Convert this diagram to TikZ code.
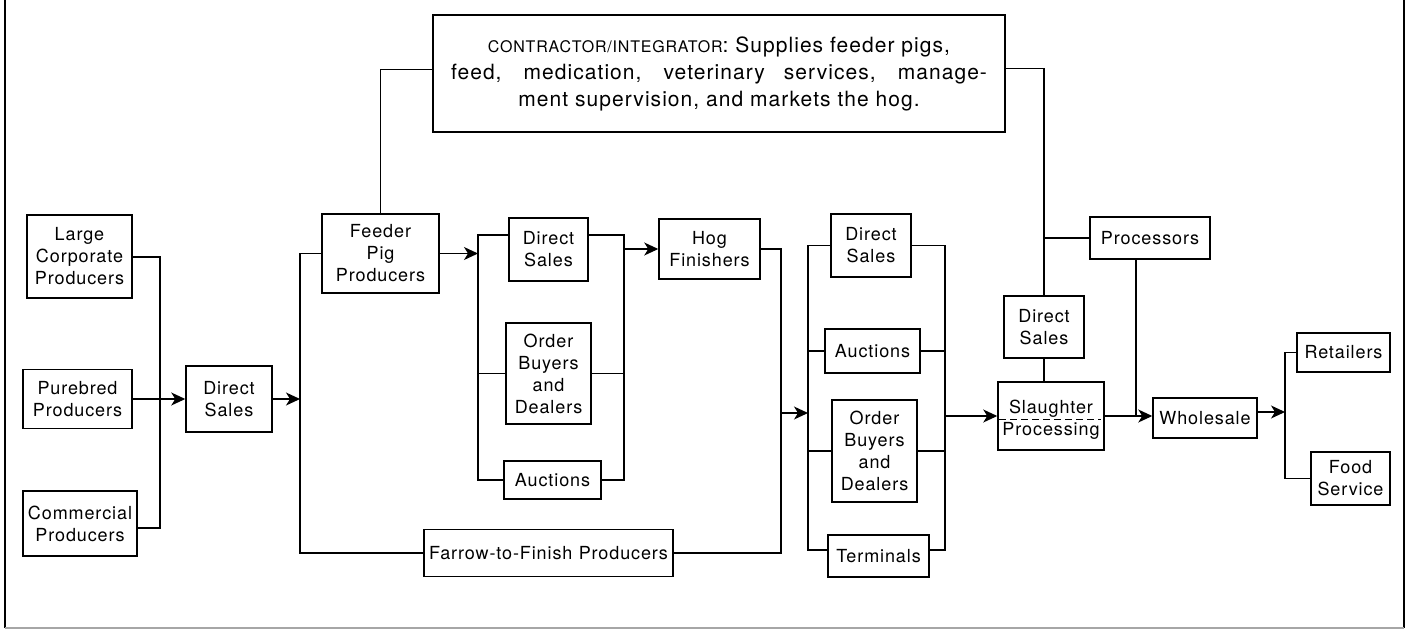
\documentclass[tikz,border=0pt]{standalone}
\usepackage{fontspec}
\setmainfont[LetterSpace=5]{TeX Gyre Heros}
\usetikzlibrary{arrows.meta}
\begin{document}
\begin{tikzpicture}[x=1pt,y=-1pt,
  box/.style={draw, line width=1.5pt, align=center, inner sep=0pt, font=\fontsize{18}{22}\selectfont},
  link/.style={line width=1.2pt},
  arr/.style={line width=1.2pt, -{Stealth[length=14pt,width=13pt,inset=4pt]}},
  frame/.style={line width=2pt}]
\useasboundingbox (0,0) rectangle (1410,629);

% frame
\draw[frame] (5,0) -- (5,628);
\draw[frame] (1404,0) -- (1404,628);
\draw[line width=1.5pt, gray!70] (5,628) -- (1404,628);

% left producers
\node[box, minimum width=105pt, minimum height=83pt] (large) at (79.5,256.5) {Large\\Corporate\\Producers};
\node[box, minimum width=109pt, minimum height=59pt] (pure) at (77.5,399) {Purebred\\Producers};
\node[box, minimum width=114pt, minimum height=65pt] (comm) at (80,523.5) {Commercial\\Producers};
\node[box, minimum width=86pt, minimum height=66pt] (ds1) at (229,399) {Direct\\Sales};

% feeder and contractor
\node[box, minimum width=117pt, minimum height=79pt] (feeder) at (380.5,253.5) {Feeder\\Pig\\Producers};
\node[box, minimum width=572pt, minimum height=117pt, font=\fontsize{21}{27}\selectfont] (contr) at (719,73.5)
  {{\fontsize{16}{27}\selectfont CONTRACTOR/INTEGRATOR}: Supplies feeder pigs,\\
   \makebox[536pt][s]{feed, medication, veterinary services, manage-}\\
   ment supervision, and markets the hog.};

% middle group
\node[box, minimum width=79pt, minimum height=63pt] (ds2) at (548.5,249.5) {Direct\\Sales};
\node[box, minimum width=85pt, minimum height=101pt] (ob1) at (548.5,373.5) {Order\\Buyers\\and\\Dealers};
\node[box, minimum width=97pt, minimum height=38pt] (auc1) at (552.5,480) {Auctions};
\node[box, minimum width=101pt, minimum height=60pt] (hog) at (709.5,249) {Hog\\Finishers};
\node[box, minimum width=249pt, minimum height=47pt] (farrow) at (548.5,553) {Farrow-to-Finish\hspace{0.35em}Producers};

% right group
\node[box, minimum width=80pt, minimum height=63pt] (ds3) at (871,245.5) {Direct\\Sales};
\node[box, minimum width=95pt, minimum height=44pt] (auc2) at (872.5,351) {Auctions};
\node[box, minimum width=85pt, minimum height=102pt] (ob2) at (874.5,451) {Order\\Buyers\\and\\Dealers};
\node[box, minimum width=101pt, minimum height=42pt] (term) at (878.5,556) {Terminals};

% slaughter etc.
\node[box, minimum width=80pt, minimum height=62pt] (ds4) at (1044,327) {Direct\\Sales};
\node[box, minimum width=106pt, minimum height=68pt] (slau) at (1051,416)
  {\raisebox{-4.5pt}[\height][\depth]{\begin{tabular}{@{}c@{}}Slaughter\\Processing\end{tabular}}};
\node[box, minimum width=120pt, minimum height=42pt] (proc) at (1150,238) {Processors};
\node[box, minimum width=104pt, minimum height=40pt] (whole) at (1205,418) {Wholesale};
\node[box, minimum width=93pt, minimum height=39pt] (retail) at (1343.5,352.5) {Retailers};
\node[box, minimum width=79pt, minimum height=53pt] (food) at (1350.5,478.5) {Food\\Service};

% dashed divider in slaughter box
\draw[line width=1pt, dash pattern=on 7pt off 4pt] ([xshift=2pt,yshift=-3pt]slau.west) -- ([xshift=-4pt,yshift=-3pt]slau.east);

% junction coordinates
\coordinate (j1) at (160,257);
\coordinate (j2) at (160,528);
\coordinate (v1) at (300,399);
\coordinate (a1) at (478,235);
\coordinate (a2) at (478,480);
\coordinate (b1) at (624,235);
\coordinate (b2) at (624,480);
\coordinate (c1) at (781,413);
\coordinate (d1) at (808,245.5);
\coordinate (d2) at (808,550);
\coordinate (e1) at (945,245.5);
\coordinate (e2) at (945,550);
\coordinate (p1) at (1136,416);
\coordinate (f1) at (1285,412);

% left connectors
\draw[link] (large.east |- j1) -- (j1) -- (j2) -- (comm.east |- j2);
\draw[arr] (pure.east) -- (ds1.west);
\draw[arr] (ds1.east) -- (v1);
\draw[link] (feeder.west) -| (v1) |- (farrow.west);
\draw[link] (feeder.north) |- ([yshift=4pt]contr.west);

% middle connectors
\draw[arr] (feeder.east) -- (feeder.east -| a1);
\draw[link] (ds2.west |- a1) -- (a1) -- (a2) -- (auc1.west);
\draw[link] (ds2.east |- b1) -- (b1) -- (b2) -- (auc1.east);
\draw[link] (ob1.west) -- (ob1.west -| a1);
\draw[link] (ob1.east) -- (ob1.east -| b1);
\draw[arr] (b1 |- hog.west) -- (hog.west);
\draw[link] (hog.east) -| (c1) |- (farrow.east);
\draw[arr] (c1) -- (c1 -| d1);

% right group connectors
\draw[link] (ds3.west) -- (d1) -- (d2) -- (term.west |- d2);
\draw[link] (ds3.east) -- (e1) -- (e2) -- (term.east |- e2);
\draw[link] (auc2.west) -- (auc2.west -| d1);
\draw[link] (auc2.east) -- (auc2.east -| e1);
\draw[link] (ob2.west) -- (ob2.west -| d1);
\draw[link] (ob2.east) -- (ob2.east -| e1);
\draw[arr] (e1 |- slau.west) -- (slau.west);

% slaughter area
\draw[link] (ds4.south) -- (ds4.south |- slau.north);
\draw[link] (ds4.north) |- ([yshift=5pt]contr.east);
\draw[link] (proc.west) -- (proc.west -| ds4.north);
\draw[link] (p1 |- proc.south) -- (p1);
\draw[arr] (slau.east) -- (slau.east -| whole.west);
\draw[arr] (whole.east |- f1) -- (f1);
\draw[link] (retail.west) -| (f1) |- (food.west);
\end{tikzpicture}
\end{document}
